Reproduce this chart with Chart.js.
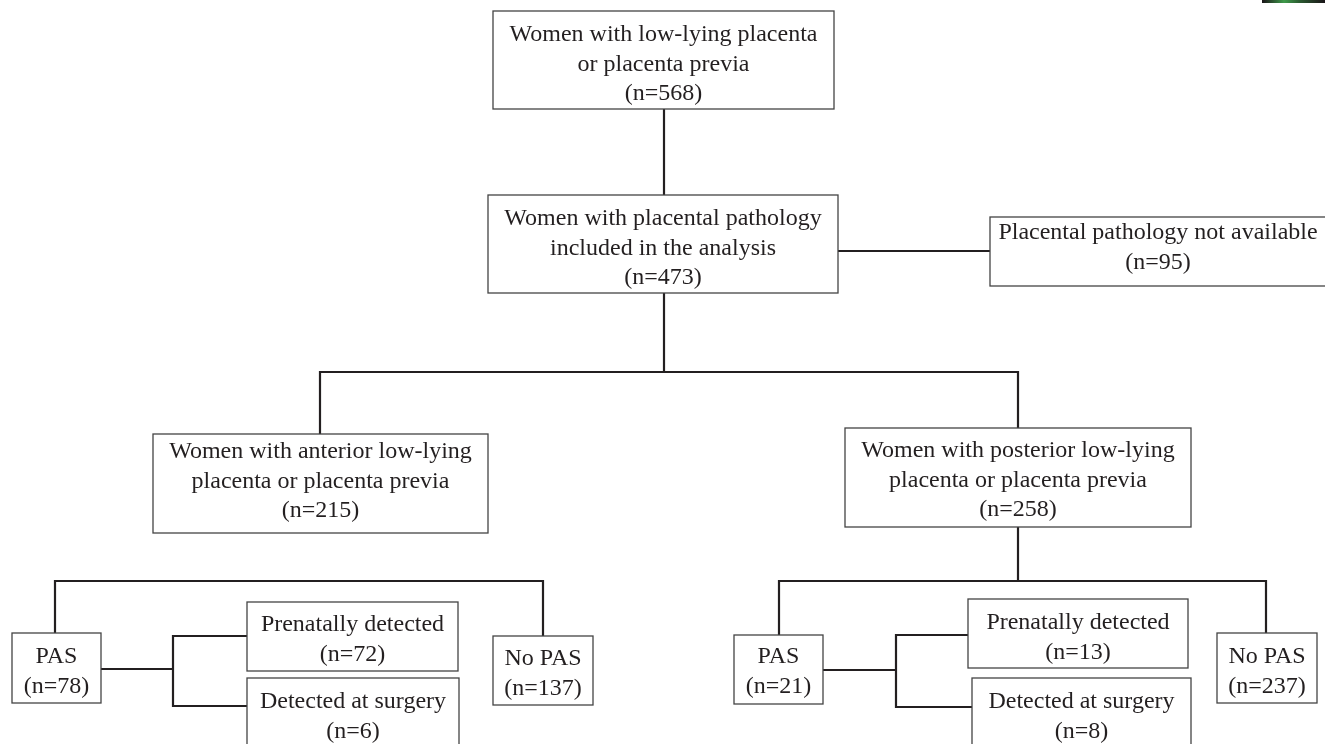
<!DOCTYPE html>
<html>
<head>
<meta charset="utf-8">
<script src="https://cdn.jsdelivr.net/npm/chart.js@4/dist/chart.umd.min.js"></script>
<style>
  html, body { margin: 0; padding: 0; background: #ffffff; }
  #wrap { position: relative; width: 1325px; height: 744px; }
</style>
</head>
<body>
<div id="wrap"><canvas id="c"></canvas></div>
<script>
// ---- data (text and counts of each flowchart box) ----
const boxIds = ["all", "included", "excluded", "anterior", "posterior",
  "pasA", "prenatalA", "surgeryA", "noPasA",
  "pasP", "prenatalP", "surgeryP", "noPasP"];
const boxTexts = [
  ["Women with low-lying placenta", "or placenta previa"],
  ["Women with placental pathology", "included in the analysis"],
  ["Placental pathology not available"],
  ["Women with anterior low-lying", "placenta or placenta previa"],
  ["Women with posterior low-lying", "placenta or placenta previa"],
  ["PAS"], ["Prenatally detected"], ["Detected at surgery"], ["No PAS"],
  ["PAS"], ["Prenatally detected"], ["Detected at surgery"], ["No PAS"]
];
const boxCounts = [568, 473, 95, 215, 258, 78, 72, 6, 137, 21, 13, 8, 237];

// ---- layout (in axis units, converted through the chart scales) ----
// [x1, x2, y1, y2, firstBaseline, textX(optional)]
const layout = {
  all:       [493, 834, 11, 109, 41],
  included:  [488, 838, 195, 293, 225],
  excluded:  [990, 1328, 217, 286, 239, 1158],
  anterior:  [153, 488, 434, 533, 458],
  posterior: [845, 1191, 428, 527, 457],
  pasA:      [12, 101, 633, 703, 663],
  prenatalA: [247, 458, 602, 671, 631],
  surgeryA:  [247, 459, 678, 770, 708],
  noPasA:    [493, 593, 636, 705, 665],
  pasP:      [734, 823, 635, 704, 663],
  prenatalP: [968, 1188, 599, 668, 629],
  surgeryP:  [972, 1191, 678, 770, 708],
  noPasP:    [1217, 1317, 633, 703, 663]
};
const connectors = [
  [[664,109],[664,195]],
  [[838,251],[990,251]],
  [[664,293],[664,372]],
  [[320,434],[320,372],[1018,372],[1018,428]],
  [[1018,527],[1018,581]],
  [[55,633],[55,581],[543,581],[543,636]],
  [[101,669],[173,669]],
  [[247,636],[173,636],[173,706],[247,706]],
  [[779,635],[779,581],[1266,581],[1266,633]],
  [[823,670],[896,670]],
  [[968,635],[896,635],[896,707],[972,707]]
];
const lineGap = 29.5;
const fontSpec = "24px 'Liberation Serif', 'Times New Roman', Times, serif";
const textColor = "#231f20";

const centers = boxIds.map(id => {
  const b = layout[id];
  return { x: (b[0] + b[1]) / 2, y: (b[2] + b[3]) / 2 };
});

const flowPlugin = {
  id: "flow",
  afterDatasetsDraw(chart) {
    const ctx = chart.ctx;
    const xs = chart.scales.x, ys = chart.scales.y;
    const px = v => xs.getPixelForValue(v);
    const py = v => ys.getPixelForValue(v);
    ctx.save();
    // small artifact strip at top right
    const g = ctx.createLinearGradient(px(1262), 0, px(1325), 0);
    g.addColorStop(0, "#1a1418"); g.addColorStop(0.35, "#3f9a4a");
    g.addColorStop(0.6, "#2a5a30"); g.addColorStop(1, "#1a1418");
    ctx.fillStyle = g;
    ctx.fillRect(px(1262), py(0), px(1325) - px(1262), py(3) - py(0));

    // connectors
    ctx.strokeStyle = "#231f20";
    ctx.lineWidth = 2.2;
    ctx.lineJoin = "miter";
    connectors.forEach(path => {
      ctx.beginPath();
      path.forEach((p, i) => {
        if (i === 0) ctx.moveTo(px(p[0]), py(p[1]));
        else ctx.lineTo(px(p[0]), py(p[1]));
      });
      ctx.stroke();
    });
    // boxes
    ctx.font = fontSpec;
    ctx.textAlign = "center";
    ctx.textBaseline = "alphabetic";
    boxIds.forEach((id, k) => {
      const b = layout[id];
      const x1 = px(b[0]), x2 = px(b[1]), y1 = py(b[2]), y2 = py(b[3]);
      ctx.fillStyle = "#ffffff";
      ctx.fillRect(x1, y1, x2 - x1, y2 - y1);
      ctx.strokeStyle = "#444444";
      ctx.lineWidth = 1.3;
      ctx.strokeRect(x1, y1, x2 - x1, y2 - y1);
      const lines = boxTexts[k].concat(["(n=" + boxCounts[k] + ")"]);
      const tx = b.length > 5 ? px(b[5]) : (x1 + x2) / 2;
      ctx.fillStyle = textColor;
      lines.forEach((t, i) => {
        ctx.fillText(t, tx, py(b[4] + i * lineGap));
      });
    });
    ctx.restore();
  }
};

new Chart(document.getElementById("c"), {
  type: "scatter",
  data: {
    datasets: [{
      label: "boxes",
      data: centers,
      pointRadius: 0,
      pointHoverRadius: 0
    }]
  },
  options: {
    responsive: true,
    maintainAspectRatio: false,
    animation: false,
    layout: { padding: 0 },
    plugins: { legend: { display: false }, tooltip: { enabled: false } },
    scales: {
      x: { type: "linear", min: 0, max: 1325, display: false },
      y: { type: "linear", min: 0, max: 744, reverse: true, display: false }
    }
  },
  plugins: [flowPlugin]
});
</script>
</body>
</html>
